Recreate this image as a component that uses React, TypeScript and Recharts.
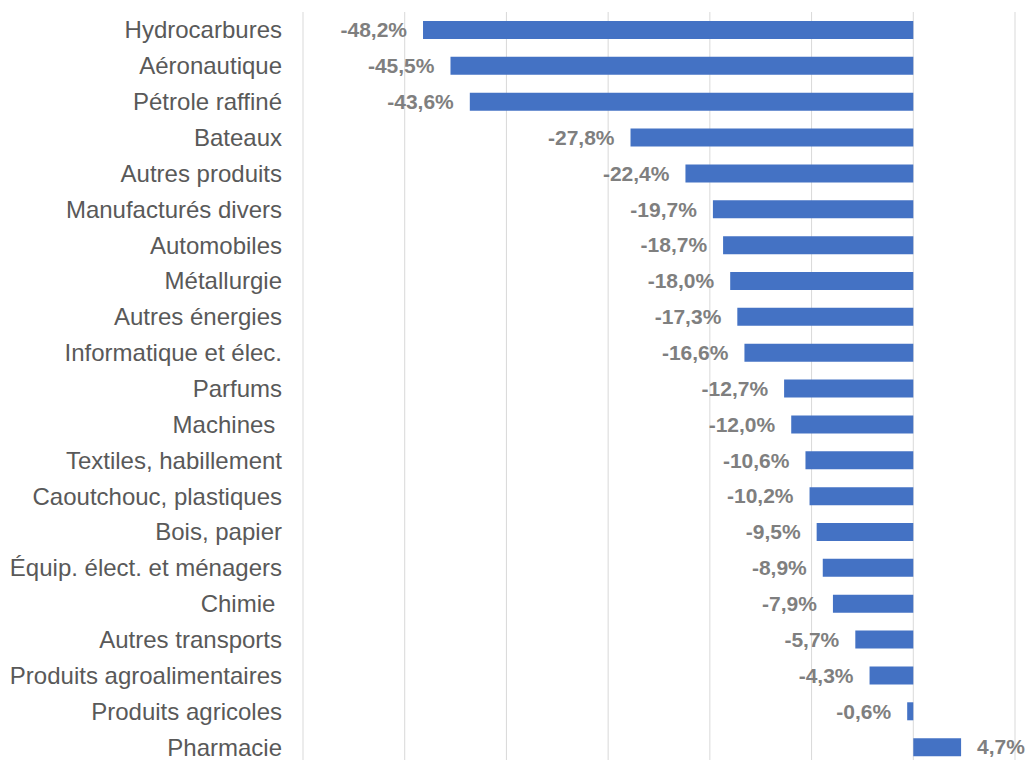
import { Bar, BarChart, CartesianGrid, LabelList, XAxis, YAxis } from "recharts";

const categories = [
  "Hydrocarbures",
  "Aéronautique",
  "Pétrole raffiné",
  "Bateaux",
  "Autres produits",
  "Manufacturés divers",
  "Automobiles",
  "Métallurgie",
  "Autres énergies",
  "Informatique et élec.",
  "Parfums",
  "Machines\u00A0",
  "Textiles, habillement",
  "Caoutchouc, plastiques",
  "Bois, papier",
  "Équip. élect. et ménagers",
  "Chimie\u00A0",
  "Autres transports",
  "Produits agroalimentaires",
  "Produits agricoles",
  "Pharmacie",
];

const values = [
  -48.2, -45.5, -43.6, -27.8, -22.4, -19.7, -18.7, -18.0, -17.3, -16.6, -12.7,
  -12.0, -10.6, -10.2, -9.5, -8.9, -7.9, -5.7, -4.3, -0.6, 4.7,
];

const gridTicks = [-60, -50, -40, -30, -20, -10, 0, 10];

const data = categories.map((name, i) => ({ name, value: values[i] }));

const FONT = '"Liberation Sans", Arial, sans-serif';

const ValueLabel = (props: any) => {
  const { x, y, width, height, value } = props;
  const left = Math.min(x, x + width);
  const right = Math.max(x, x + width);
  const neg = value < 0;
  return (
    <text
      x={neg ? left - 16 : right + 16}
      y={y + height / 2}
      dy="0.35em"
      textAnchor={neg ? "end" : "start"}
      fill="#7f7f7f"
      fontSize={21}
      fontWeight="bold"
      fontFamily={FONT}
    >
      {value.toFixed(1).replace(".", ",") + "%"}
    </text>
  );
};

export default function App() {
  return (
    <div style={{ position: "absolute", top: 0, left: 0, width: 1027, height: 760, overflow: "hidden" }}>
      <BarChart
        width={1027}
        height={780}
        data={data}
        layout="vertical"
        margin={{ top: 12, right: 12, left: 0, bottom: 15 }}
        barSize={18}
      >
        <CartesianGrid horizontal={false} stroke="#d9d9d9" />
        <XAxis
          type="number"
          domain={[-60, 10]}
          ticks={gridTicks}
          tick={() => <g />}
          axisLine={false}
          tickLine={false}
          height={0}
        />
        <YAxis
          type="category"
          dataKey="name"
          width={303}
          axisLine={false}
          tickLine={false}
          tickSize={0}
          tickMargin={21}
          interval={0}
          tick={{ fill: "#595959", fontSize: 24, fontFamily: FONT }}
        />
        <Bar dataKey="value" fill="#4472c4" isAnimationActive={false}>
          <LabelList dataKey="value" content={<ValueLabel />} />
        </Bar>
      </BarChart>
    </div>
  );
}
